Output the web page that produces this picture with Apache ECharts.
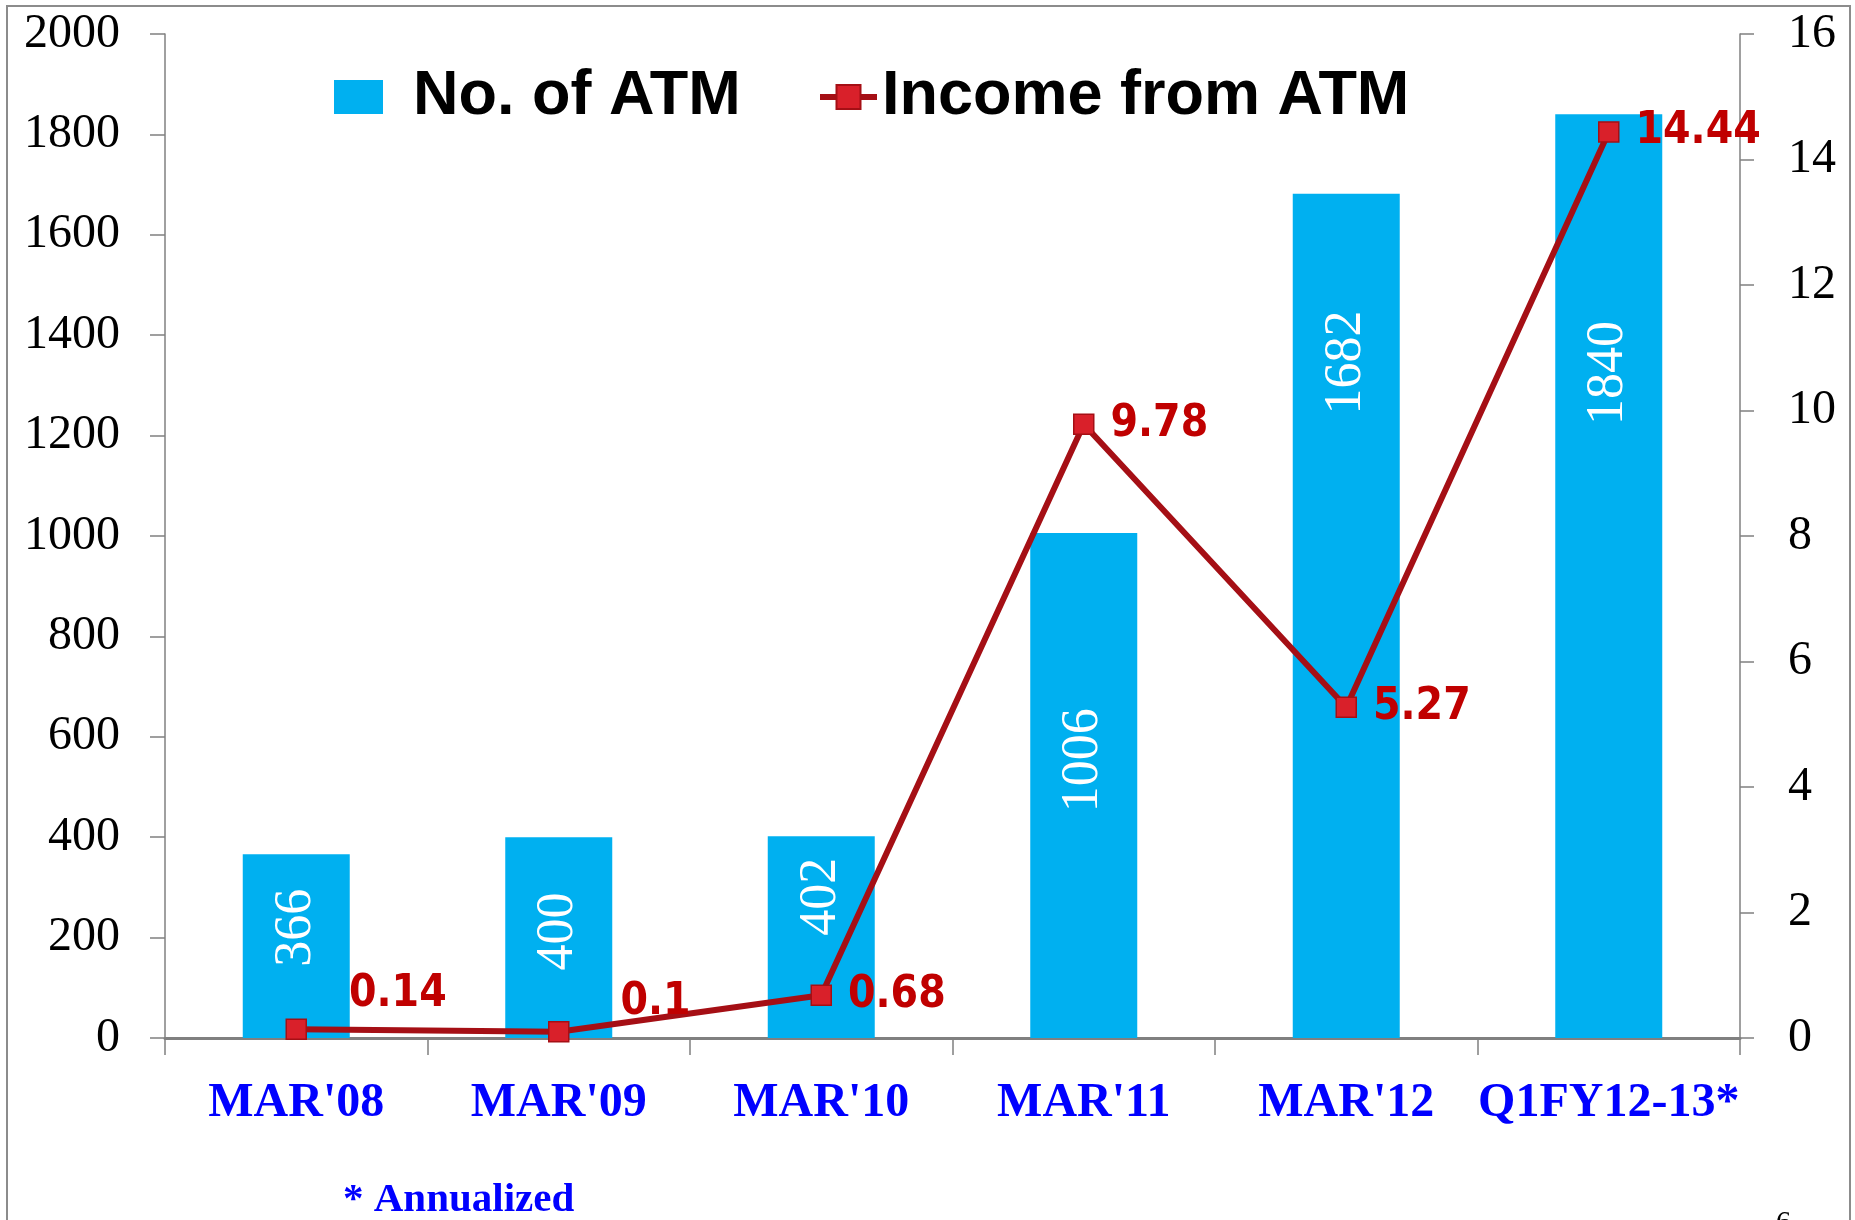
<!DOCTYPE html>
<html><head><meta charset="utf-8">
<script src="https://cdn.jsdelivr.net/npm/echarts@6/dist/echarts.min.js"></script>
<style>html,body{margin:0;padding:0;background:#fff}#c{width:1855px;height:1220px}</style>
</head><body><div id="c"></div>
<script>
const categories = ["MAR'08", "MAR'09", "MAR'10", "MAR'11", "MAR'12", "Q1FY12-13*"];
const atmCount = [366, 400, 402, 1006, 1682, 1840];
const atmIncome = [0.14, 0.1, 0.68, 9.78, 5.27, 14.44];
const leftTicks = {min: 0, max: 2000, interval: 200};
const rightTicks = {min: 0, max: 16, interval: 2};
const footnote = '* Annualized';

// label placement styles (not data)
const barLabelY = ['40%', '47%', '30%', '45%', '20%', '28%'];
const incomeLabelShift = [[26, -35], [35, -29], [0, 0], [0, 0], [0, 0], [0, 0]];

const serif = '"Liberation Serif", "DejaVu Serif", serif';
const sans = '"Liberation Sans", Arial, sans-serif';
const cond = '"DejaVu Sans Condensed", "DejaVu Sans", sans-serif';

const chart = echarts.init(document.getElementById('c'), null, {renderer: 'canvas'});
chart.setOption({
  backgroundColor: '#fff',
  animation: false,
  grid: {left: 165, right: 115, top: 34, bottom: 182, containLabel: false},
  legend: [
    {data: ['No. of ATM'], left: 329, top: 60, itemWidth: 49, itemHeight: 34, icon: 'rect',
     textStyle: {fontFamily: sans, fontWeight: 'bold', fontSize: 63, color: '#000', lineHeight: 64, padding: [0, 0, 0, 25]}},
    {data: ['Income from ATM'], left: 812, top: 60, itemWidth: 57, itemHeight: 30,
     lineStyle: {width: 6, color: '#A50F15'},
     textStyle: {fontFamily: sans, fontWeight: 'bold', fontSize: 63, color: '#000', lineHeight: 64}}
  ],
  xAxis: {
    type: 'category', data: categories, boundaryGap: true,
    axisLine: {show: true, lineStyle: {color: '#808080', width: 3}},
    axisTick: {show: true, alignWithLabel: false, length: 17, lineStyle: {color: '#808080', width: 1.5}},
    axisLabel: {margin: 42, color: '#0000FF', fontFamily: serif, fontWeight: 'bold', fontSize: 48, interval: 0},
    splitLine: {show: false}
  },
  yAxis: [
    {type: 'value', min: leftTicks.min, max: leftTicks.max, interval: leftTicks.interval,
     axisLine: {show: true, lineStyle: {color: '#808080', width: 1.5}},
     axisTick: {show: true, length: 15, lineStyle: {color: '#808080', width: 1.5}},
     axisLabel: {margin: 45, color: '#000', fontFamily: serif, fontSize: 48, formatter: v => String(v)},
     splitLine: {show: false}},
    {type: 'value', min: rightTicks.min, max: rightTicks.max, interval: rightTicks.interval, position: 'right',
     axisLine: {show: true, lineStyle: {color: '#808080', width: 1.5}},
     axisTick: {show: true, length: 14, lineStyle: {color: '#808080', width: 1.5}},
     axisLabel: {margin: 48, color: '#000', fontFamily: serif, fontSize: 48, formatter: v => String(v)},
     splitLine: {show: false}}
  ],
  series: [
    {
      name: 'No. of ATM', type: 'bar', yAxisIndex: 0, barWidth: 107,
      itemStyle: {color: '#00B0F0'},
      data: atmCount.map((v, i) => ({value: v, label: {position: ['50%', barLabelY[i]]}})),
      label: {show: true, rotate: 90, align: 'center', verticalAlign: 'middle',
              color: '#fff', fontFamily: serif, fontSize: 52}
    },
    {
      name: 'Income from ATM', type: 'line', yAxisIndex: 1, z: 5,
      symbol: 'rect', symbolSize: 20,
      lineStyle: {color: '#A50F15', width: 6},
      itemStyle: {color: '#D9202A', borderColor: '#A50F15', borderWidth: 1.5},
      data: atmIncome.map((v, i) => ({value: v, label: {offset: incomeLabelShift[i]}})),
      label: {show: true, position: 'right', distance: 16, color: '#C00000',
              fontFamily: cond, fontWeight: 'bold', fontSize: 44}
    }
  ],
  graphic: [
    {type: 'rect', shape: {x: 7, y: 6, width: 1843, height: 1260}, style: {fill: 'none', stroke: '#8c8c8c', lineWidth: 2}, silent: true},
    {type: 'text', left: 343, top: 1180, style: {text: footnote, fill: '#0000FF', font: 'bold 41px ' + serif}},
    {type: 'text', left: 1776, top: 1208, style: {text: '6', fill: '#000', font: '30px ' + serif}}
  ]
});
</script></body></html>
